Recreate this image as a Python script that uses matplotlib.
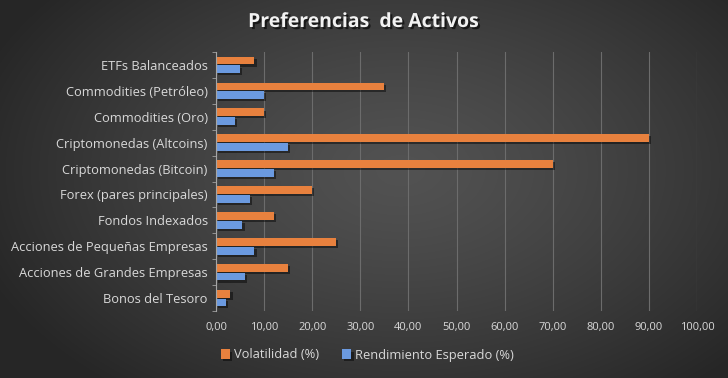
import matplotlib
matplotlib.use("Agg")
import matplotlib.pyplot as plt
import numpy as np
from matplotlib import patheffects as pe
from matplotlib.ticker import FuncFormatter

categories = ["Bonos del Tesoro", "Acciones de Grandes Empresas", "Acciones de Pequeñas Empresas",
              "Fondos Indexados", "Forex (pares principales)", "Criptomonedas (Bitcoin)",
              "Criptomonedas (Altcoins)", "Commodities (Oro)", "Commodities (Petróleo)", "ETFs Balanceados"]
volatilidad = [3, 15, 25, 12, 20, 70, 90, 10, 35, 8]
rendimiento = [2, 6, 8, 5.5, 7, 12, 15, 4, 10, 5]
xticks = [0, 10, 20, 30, 40, 50, 60, 70, 80, 90, 100]

plt.rcParams['font.family'] = ['Open Sans', 'DejaVu Sans']
txt = '#d9d9d9'

fig = plt.figure(figsize=(7.28, 3.78), dpi=100)

# radial gradient background
bg = fig.add_axes([0, 0, 1, 1], zorder=-10)
H, W = 378, 728
yy, xx = np.mgrid[0:H, 0:W]
r = np.sqrt(((xx - W * 0.55) / (W * 0.62)) ** 2 + ((yy - H * 0.45) / (H * 0.75)) ** 2)
r = np.clip(r, 0, 1)
c0, c1 = 0x52 / 255, 0x26 / 255
val = c0 + (c1 - c0) * r ** 1.3
img = np.dstack([val, val, val])
bg.imshow(img, aspect='auto', extent=[0, 1, 0, 1])
bg.axis('off')

ax = fig.add_axes([216 / 728, 1 - 311 / 378, (697 - 216) / 728, (311 - 52) / 378])
ax.set_facecolor('none')

y = np.arange(len(categories))
h = 0.3
off = 0.17
shadow = [pe.SimplePatchShadow(offset=(1.5, -1.5), shadow_rgbFace='black', alpha=0.45), pe.Normal()]
b1 = ax.barh(y + off, volatilidad, height=h, color='#e8813e', label='Volatilidad (%)', zorder=3)
b2 = ax.barh(y - off, rendimiento, height=h, color='#6b9ae0', label='Rendimiento Esperado (%)', zorder=3)
for b in list(b1) + list(b2):
    b.set_path_effects(shadow)

ax.set_xlim(0, 100)
ax.set_ylim(-0.5, len(categories) - 0.5)
ax.set_xticks(xticks)
ax.xaxis.set_major_formatter(FuncFormatter(lambda v, p: f"{v:.2f}".replace('.', ',')))
ax.set_yticks(y)
ax.set_yticklabels(categories)
ax.tick_params(axis='x', length=0, colors=txt, labelsize=8, pad=8)
ax.tick_params(axis='y', length=0, colors=txt, labelsize=9.3, pad=6)
ax.set_yticks(np.arange(-0.5, len(categories), 1), minor=True)
ax.tick_params(axis='y', which='minor', length=3, color='#a0a0a0', direction='out')
ax.grid(axis='x', color='#6c6c6c', linewidth=0.8, zorder=0)
for s in ['top', 'right', 'bottom']:
    ax.spines[s].set_visible(False)
ax.spines['left'].set_color('#a6a6a6')
ax.spines['left'].set_linewidth(0.8)
ax.spines['left'].set_zorder(4)

t = fig.text(0.5, 1 - 22 / 378, 'Preferencias  de Activos', ha='center', va='center',
             fontsize=14, fontweight='bold', color='#f2f2f2')
t.set_path_effects([pe.withSimplePatchShadow(offset=(1.5, -1.5), shadow_rgbFace='black', alpha=0.6)])

leg = fig.legend(handles=[b1, b2], loc='center', bbox_to_anchor=(0.505, 1 - 355 / 378), ncol=2,
                 frameon=False, fontsize=9.3, handlelength=0.7, handleheight=0.7, handletextpad=0.3,
                 columnspacing=1.8, labelcolor=txt)

fig.savefig('out.png', dpi=100)
